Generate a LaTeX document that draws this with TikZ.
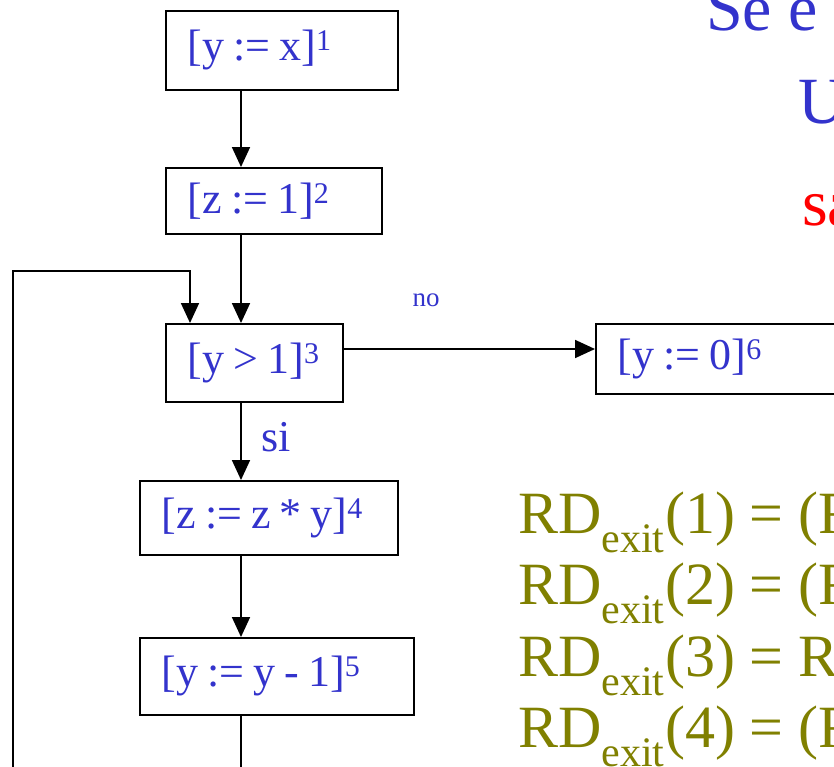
\documentclass[tikz,border=0pt]{standalone}
\usepackage{fontspec}
\setmainfont{Liberation Serif}
\usetikzlibrary{arrows.meta}

\definecolor{stmtblue}{RGB}{51,51,204}
\definecolor{rdolive}{RGB}{128,128,0}

% statement text with its label raised to the top of the digits
\newcommand{\stmtlab}[2]{\spaceskip=9pt\relax
  \mbox{#1\raisebox{10pt}{\fontsize{30}{32}\selectfont #2}}}

\tikzset{
  stmt/.style={draw, line width=1.8pt, anchor=north west, align=left,
    inner xsep=22pt, inner ysep=0pt, text=stmtblue,
    font=\fontsize{44}{52}\selectfont},
  flow/.style={line width=1.8pt, -{Triangle[width=18pt,length=20pt]}},
  rdline/.style={anchor=base west, text=rdolive, inner sep=0pt,
    font=\fontsize{60}{70}\selectfont}
}

\begin{document}
\begin{tikzpicture}[x=1pt,y=-1pt]
  \useasboundingbox (0,0) rectangle (834,766);
  % Statements of the flow graph.
  \node[stmt, text width=188pt, minimum height=79pt] (b1) at (165,10) {\stmtlab{[y := x]}{1}};
  \node[stmt, text width=172pt, minimum height=66pt] (b2) at (165,167) {\stmtlab{[z := 1]}{2}};
  \node[stmt, text width=133pt, minimum height=78pt] (b3) at (165,323) {\stmtlab{[y > 1]}{3}};
  \node[stmt, text width=214pt, minimum height=74pt] (b4) at (139,480) {\stmtlab{[z := z * y]}{4}};
  \node[stmt, text width=230pt, minimum height=77pt] (b5) at (139,637) {\stmtlab{[y := y - 1]}{5}};
  \node[stmt, text width=220pt, minimum height=70pt] (b6) at (595,323) {\stmtlab{[y := 0]}{6}};
  % Column of the straight edges, the back edge and the exit edge.
  \coordinate (spine) at (241,0);
  \coordinate (noline) at (0,349);
  \coordinate (back) at (13,780);
  \coordinate (loopin) at (190,271);
  \coordinate (tail) at (241,780);
  % Edges.
  \draw[flow] (b1.south -| spine) -- (b2.north -| spine);
  \draw[flow] (b2.south -| spine) -- (b3.north -| spine);
  \draw[flow] (b3.south -| spine) -- (b4.north -| spine);
  \draw[flow] (b4.south -| spine) -- (b5.north -| spine);
  \draw[line width=1.8pt] (b5.south -| spine) -- (tail);
  \draw[flow] (back) |- (loopin) -- (b3.north -| loopin);
  \draw[flow] (b3.east |- noline) -- (b6.west |- noline);
  % Edge labels.
  \node[text=stmtblue, font=\fontsize{27}{32}\selectfont] (no) at (426,300) {no};
  \node[text=stmtblue, font=\fontsize{44}{50}\selectfont] (si) at (276,437) {si};
  % Slide text on the right, cut by the frame.
  \node[anchor=base west, inner sep=0pt, text=stmtblue, font=\fontsize{66}{76}\selectfont] (head) at (706,30) {Se e};
  \node[anchor=base west, inner sep=0pt, text=stmtblue, font=\fontsize{66}{76}\selectfont] (hu) at (798,123) {U};
  \node[anchor=base west, inner sep=0pt, text=red, font=\fontsize{66}{76}\selectfont] (hsa) at (802,225) {sa};
  % Exit equations.
  \node[rdline] (rd1) at (518,533) {RD\textsubscript{exit}(1) = (R};
  \node[rdline] (rd2) at (518,604) {RD\textsubscript{exit}(2) = (R};
  \node[rdline] (rd3) at (518,676) {RD\textsubscript{exit}(3) = R};
  \node[rdline] (rd4) at (518,747) {RD\textsubscript{exit}(4) = (R};
\end{tikzpicture}
\end{document}
